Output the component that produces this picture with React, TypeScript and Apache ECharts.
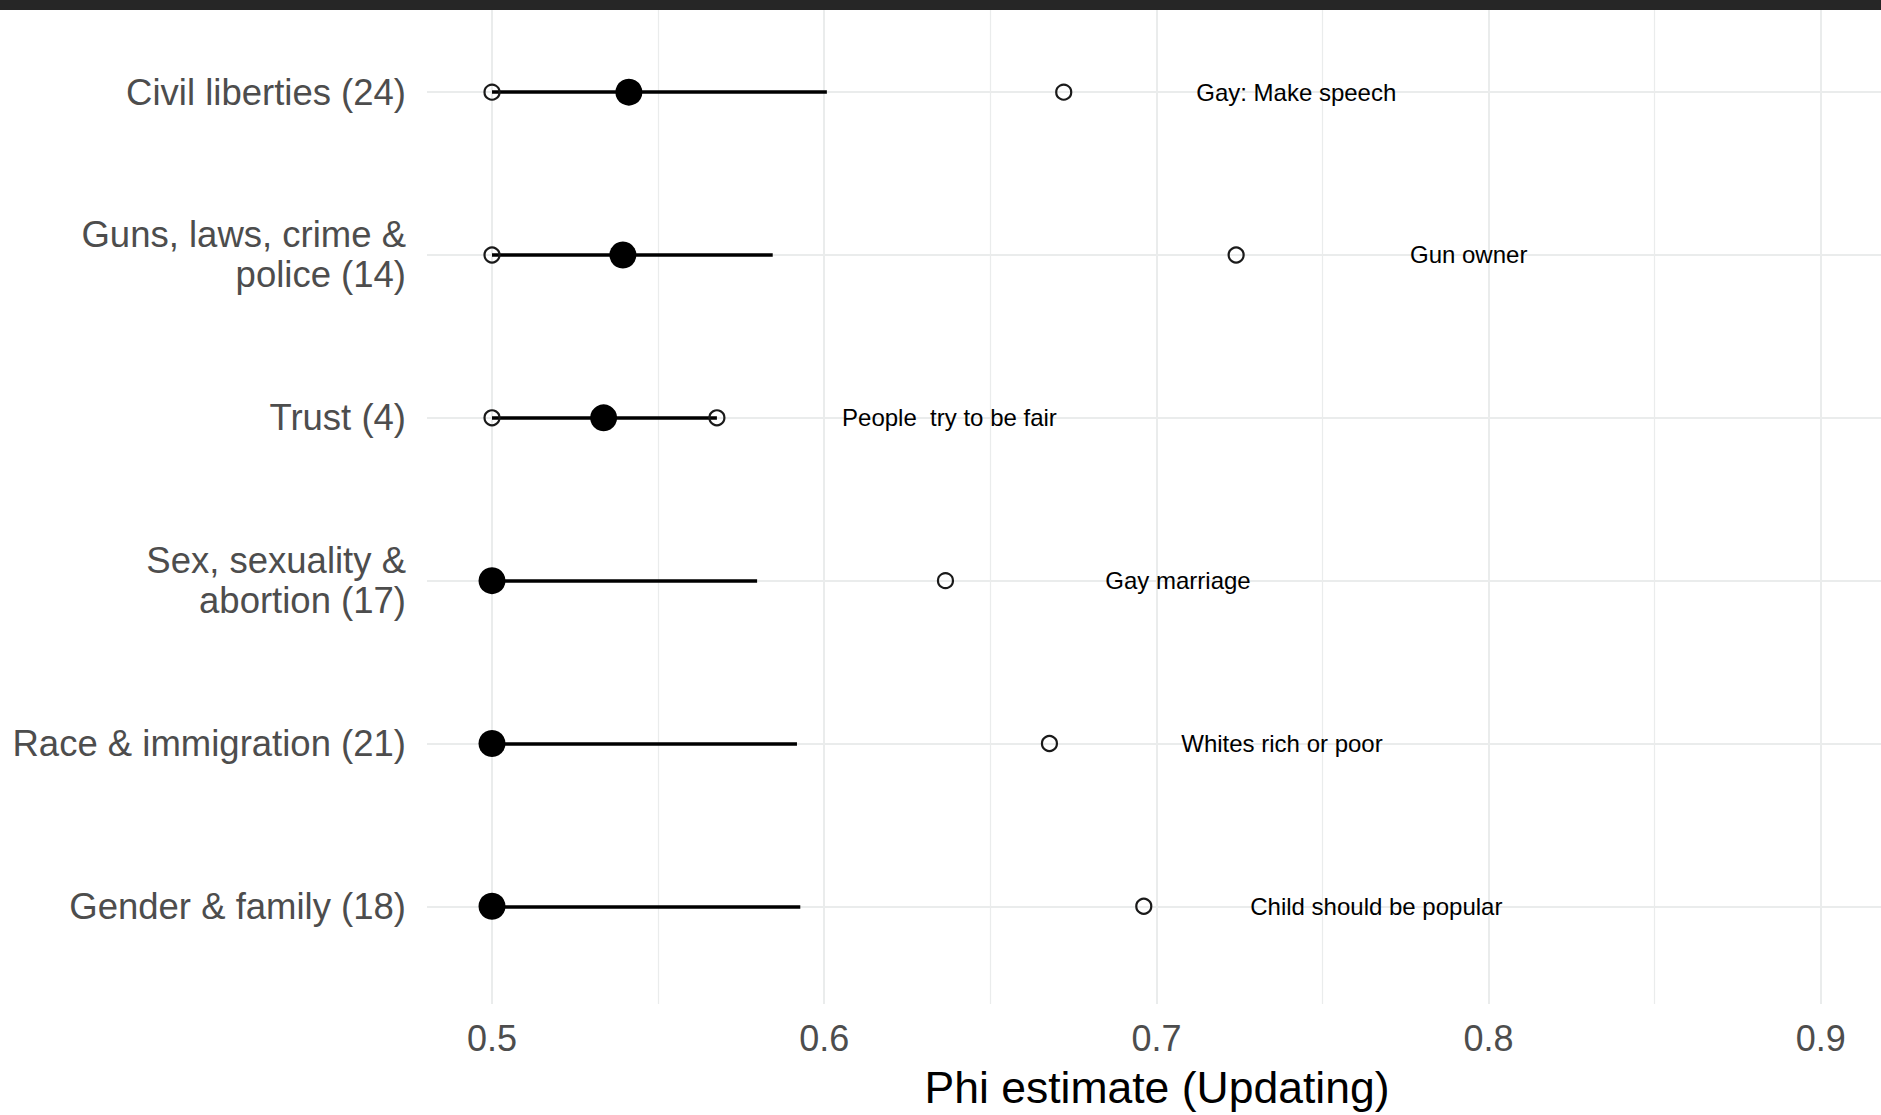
import React, { useEffect, useRef } from "react";
import * as echarts from "echarts";

const CATEGORIES = [
  "Civil liberties (24)",
  "Guns, laws, crime &\npolice (14)",
  "Trust (4)",
  "Sex, sexuality &\nabortion (17)",
  "Race & immigration (21)",
  "Gender & family (18)",
];
const MIN_PHI = [0.5, 0.5, 0.5, 0.5, 0.5, 0.5];
const MEDIAN_PHI = [0.5412, 0.5394, 0.5336, 0.5, 0.5, 0.5];
const UPPER_PHI = [0.6008, 0.5845, 0.5677, 0.5798, 0.5918, 0.5928];
const MAX_PHI = [0.6721, 0.724, 0.5677, 0.6365, 0.6678, 0.6962];
const MAX_ITEM = [
  "Gay: Make speech",
  "Gun owner",
  "People  try to be fair",
  "Gay marriage",
  "Whites rich or poor",
  "Child should be popular",
];
const X_TICKS = [0.5, 0.6, 0.7, 0.8, 0.9];
const X_MINOR = [0.55, 0.65, 0.75, 0.85];
const X_MIN = 0.48043;
const X_MAX = 0.91812;
const Y_MIN = -0.566;
const Y_MAX = 5.6;
const LABEL_OFFSET = 0.07;

const FONT = "'Liberation Sans', Arial, Helvetica, sans-serif";
const GRID_COLOR = "#eaecec";

export default function App() {
  const ref = useRef<HTMLDivElement>(null);

  useEffect(() => {
    document.body.style.margin = "0";
    if (!ref.current) return;
    const chart = echarts.init(ref.current, undefined, { renderer: "svg" });
    const rows = CATEGORIES.map((_, i) => i);

    const option: any = {
      animation: false,
      backgroundColor: "#ffffff",
      textStyle: { fontFamily: FONT },
      grid: { left: 427, right: 0, top: 0, bottom: 110, containLabel: false },
      xAxis: [
        {
          type: "value",
          min: X_MIN,
          max: X_MAX,
          position: "bottom",
          axisLine: { show: false },
          axisTick: { show: false, customValues: X_TICKS },
          axisLabel: {
            customValues: X_TICKS,
            fontSize: 36,
            color: "#4d4d4d",
            margin: 16,
            fontFamily: FONT,
            formatter: (v: number) => String(Math.round(v * 10) / 10),
          },
          splitLine: { show: true, lineStyle: { color: GRID_COLOR, width: 2 } },
          name: "Phi estimate (Updating)",
          nameLocation: "middle",
          nameGap: 61,
          nameTextStyle: {
            fontSize: 44.5,
            color: "#000000",
            fontFamily: FONT,
            padding: [0, 0, 0, 6],
          },
          z: 0,
        },
        {
          type: "value",
          min: X_MIN,
          max: X_MAX,
          position: "top",
          axisLine: { show: false },
          axisTick: { show: false, customValues: X_MINOR },
          axisLabel: { show: false, customValues: X_MINOR },
          splitLine: { show: true, lineStyle: { color: GRID_COLOR, width: 1.2 } },
          z: 0,
        },
      ],
      yAxis: {
        type: "value",
        inverse: true,
        min: Y_MIN,
        max: Y_MAX,
        axisLine: { show: false },
        axisTick: { show: false, customValues: rows },
        axisLabel: {
          customValues: rows,
          fontSize: 36.5,
          lineHeight: 40,
          color: "#4d4d4d",
          margin: 21,
          fontFamily: FONT,
          formatter: (v: number) => CATEGORIES[Math.round(v)] ?? "",
        },
        splitLine: { show: true, lineStyle: { color: GRID_COLOR, width: 2 } },
      },
      series: [
        {
          type: "lines",
          coordinateSystem: "cartesian2d",
          xAxisIndex: 0,
          yAxisIndex: 0,
          silent: true,
          lineStyle: { color: "#000000", width: 3.5, opacity: 1, curveness: 0 },
          data: rows.map((i) => ({ coords: [[MIN_PHI[i], i], [UPPER_PHI[i], i]] })),
          z: 2,
        },
        {
          type: "scatter",
          xAxisIndex: 0,
          symbol: "circle",
          symbolSize: 15,
          itemStyle: {
            color: "rgba(0,0,0,0)",
            borderColor: "#1a1a1a",
            borderWidth: 2.2,
            opacity: 1,
          },
          data: rows.map((i) => [MIN_PHI[i], i]),
          z: 3,
        },
        {
          type: "scatter",
          xAxisIndex: 0,
          symbol: "circle",
          symbolSize: 15,
          itemStyle: {
            color: "rgba(0,0,0,0)",
            borderColor: "#1a1a1a",
            borderWidth: 2.2,
            opacity: 1,
          },
          data: rows.map((i) => [MAX_PHI[i], i]),
          z: 3,
        },
        {
          type: "scatter",
          xAxisIndex: 0,
          symbol: "circle",
          symbolSize: 27,
          itemStyle: { color: "#000000", opacity: 1 },
          data: rows.map((i) => [MEDIAN_PHI[i], i]),
          z: 4,
        },
        {
          type: "scatter",
          xAxisIndex: 0,
          symbol: "circle",
          symbolSize: 1,
          itemStyle: { color: "rgba(0,0,0,0)", opacity: 1 },
          label: {
            show: true,
            position: "inside",
            fontSize: 24,
            color: "#000000",
            fontFamily: FONT,
            formatter: (p: any) => MAX_ITEM[p.dataIndex],
          },
          data: rows.map((i) => [MAX_PHI[i] + LABEL_OFFSET, i]),
          z: 5,
        },
      ],
      graphic: [
        {
          type: "rect",
          left: 0,
          top: 0,
          z: 100,
          shape: { width: 1881, height: 10 },
          style: { fill: "#262626" },
        },
      ],
    };

    chart.setOption(option);
    return () => chart.dispose();
  }, []);

  return (
    <div
      ref={ref}
      style={{ position: "absolute", left: 0, top: 0, width: 1881, height: 1115 }}
    />
  );
}
